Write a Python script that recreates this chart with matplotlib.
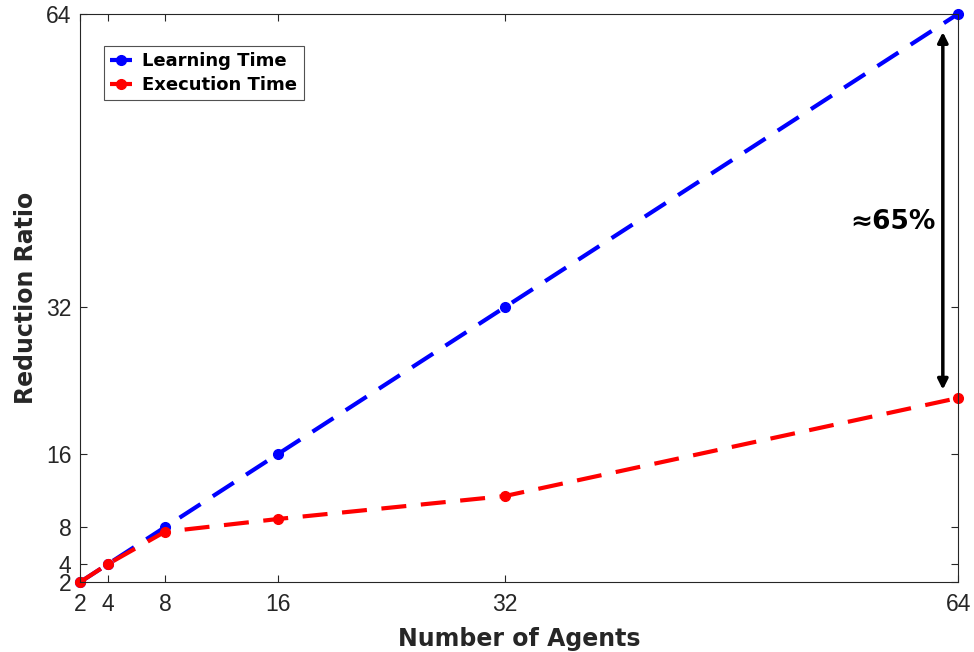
import matplotlib.pyplot as plt
import numpy as np

plt.rcParams['font.family'] = ['Liberation Sans', 'DejaVu Sans']

# data
agents = [2, 4, 8, 16, 32, 64]
learning_time = [2, 4, 8, 16, 32, 64]
execution_time = [2, 4, 7.5, 8.9, 11.4, 22.1]
ticks = [2, 4, 8, 16, 32, 64]

fig = plt.figure(figsize=(9.74, 6.52), dpi=100)
ax = fig.add_axes([0.082, 0.107, 0.902, 0.872])

ax.plot(agents, learning_time, '--', color='blue', linewidth=3, dashes=(6, 3.5),
        marker='o', markersize=7, label='Learning Time', clip_on=False)
ax.plot(agents, execution_time, '--', color='red', linewidth=3, dashes=(6, 3.5),
        marker='o', markersize=7, label='Execution Time', clip_on=False)

ax.set_xlim(2, 64)
ax.set_ylim(2, 64)
ax.set_xticks(ticks)
ax.set_yticks(ticks)
ax.tick_params(direction='in', length=5, top=True, right=True, labelsize=16.5,
               colors='#262626', width=0.8)
ax.tick_params(axis='x', pad=8)
ax.tick_params(axis='y', pad=6)
for s in ax.spines.values():
    s.set_color('#262626')
    s.set_linewidth(0.8)

ax.set_xlabel('Number of Agents', fontsize=17, fontweight='bold', color='#262626',
              labelpad=8, family=['DejaVu Sans'])
ax.set_ylabel('Reduction Ratio', fontsize=17, fontweight='bold', color='#262626',
              labelpad=6, family=['DejaVu Sans'])

# reduction arrow
ax.annotate('', xy=(62.9, 23.0), xytext=(62.9, 62.0),
            arrowprops=dict(arrowstyle='<|-|>', color='black', lw=2.5,
                            mutation_scale=15, shrinkA=0, shrinkB=0))
ax.text(59.4, 41.3, '≈65%', fontsize=19, fontweight='bold', ha='center', va='center',
        family=['DejaVu Sans'])

leg = ax.legend(loc='upper left', bbox_to_anchor=(0.027, 0.944),
                prop={'weight': 'bold', 'size': 13, 'family': 'DejaVu Sans'},
                frameon=True, fancybox=False, edgecolor='#262626',
                handlelength=1.2, handletextpad=0.6, borderpad=0.35,
                labelspacing=0.35, borderaxespad=0)
leg.get_frame().set_linewidth(0.8)

fig.savefig('out.png', dpi=100)
